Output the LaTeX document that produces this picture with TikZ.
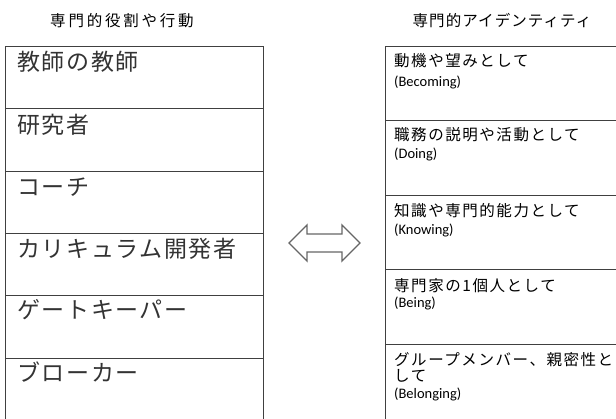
\documentclass[tikz,border=0pt]{standalone}
\usepackage{fontspec}
\setmainfont{Carlito}
\newfontfamily\jpbig[LetterSpace=7]{Noto Sans CJK JP}
\newfontfamily\jpsmall[LetterSpace=10]{Noto Sans CJK JP}
\newfontfamily\jpheadA[LetterSpace=18]{Noto Sans CJK JP}
\newfontfamily\jpheadB[LetterSpace=7]{Noto Sans CJK JP}
\newfontfamily\latfont{Carlito}
\begin{document}
\begin{tikzpicture}[x=1pt,y=-1pt,
  boxline/.style={draw=black!75, line width=0.9pt},
  lefttxt/.style={anchor=west, inner sep=0pt, font=\jpbig\fontsize{23}{23}\selectfont, text=black!80, text height=20.2pt, text depth=2.8pt},
  rightjp/.style={anchor=west, inner sep=0pt, font=\jpsmall\fontsize{15.5}{15.5}\selectfont, text=black, text height=13.6pt, text depth=1.9pt},
  rightlat/.style={anchor=west, inner sep=0pt, font=\latfont\fontsize{14.5}{14.5}\selectfont, text=black, text height=10.6pt, text depth=2.9pt},
  headtxt/.style={anchor=center, inner sep=0pt, text=black, text height=13.6pt, text depth=1.9pt},
  arrowshape/.style={draw=black!60, line width=1.3pt, line join=miter}
]
\useasboundingbox (0,0) rectangle (616,419);
\clip (0,0) rectangle (616,419);

% headers
\node[headtxt, font=\jpheadA\fontsize{15.5}{15.5}\selectfont] (hl) at (122,21) {専門的役割や行動};
\node[headtxt, font=\jpheadB\fontsize{15.5}{15.5}\selectfont] (hr) at (502,21) {専門的アイデンティティ};

% left box
\draw[boxline] (5,46) rectangle (263,440);
\foreach \y in {108,171,233,295,358} \draw[boxline] (5,\y) -- (263,\y);

\node[lefttxt] (l1) at (17,62) {教師の教師};
\node[lefttxt] (l2) at (17,125) {研究者};
\node[lefttxt] (l3) at (17,187) {コーチ};
\node[lefttxt] (l4) at (17,249) {カリキュラム開発者};
\node[lefttxt] (l5) at (17,310) {ゲートキーパー};
\node[lefttxt] (l6) at (17,373) {ブローカー};

% right box
\draw[boxline] (385,46) rectangle (640,440);
\foreach \y in {120,195,269,344} \draw[boxline] (385,\y) -- (640,\y);

\node[rightjp] (r1a) at (394,61) {動機や望みとして};
\node[rightlat] (r1b) at (394,83) {(Becoming)};
\node[rightjp] (r2a) at (394,135) {職務の説明や活動として};
\node[rightlat] (r2b) at (394,155) {(Doing)};
\node[rightjp] (r3a) at (394,211) {知識や専門的能力として};
\node[rightlat] (r3b) at (394,231) {(Knowing)};
\node[rightjp] (r4a) at (394,286) {専門家の1個人として};
\node[rightlat] (r4b) at (394,304) {(Being)};
\node[rightjp] (r5a) at (394,360) {グループメンバー、親密性と};
\node[rightjp] (r5b) at (394,376) {して};
\node[rightlat] (r5c) at (394,395) {(Belonging)};

% double arrow
\draw[arrowshape] (289,243) -- (307,225) -- (307,234) -- (342,234) -- (342,225)
  -- (360,243) -- (342,261) -- (342,252) -- (307,252) -- (307,261) -- cycle;
\end{tikzpicture}
\end{document}
